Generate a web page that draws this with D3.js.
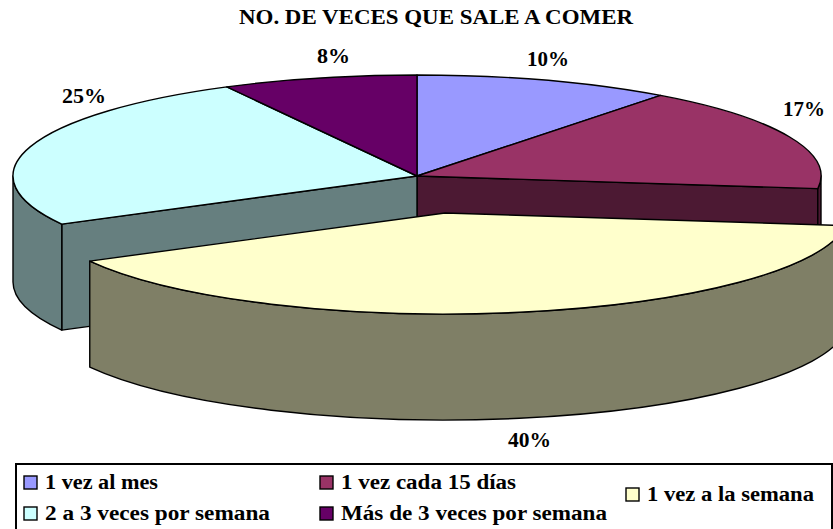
<!DOCTYPE html>
<html>
<head>
<meta charset="utf-8">
<script src="https://d3js.org/d3.v7.min.js"></script>
<style>
  html, body { margin: 0; padding: 0; background: #fff; }
  svg { display: block; }
  text { font-family: "Liberation Serif", serif; font-weight: bold; fill: #000; }
</style>
</head>
<body>
<script>
// datos
var categories = ["1 vez al mes", "1 vez cada 15 días", "1 vez a la semana", "2 a 3 veces por semana", "Más de 3 veces por semana"];
var percents = [10.3, 16.7, 40.1, 25.1, 7.8];
var topColors = ["#9999ff", "#993366", "#ffffcc", "#ccffff", "#660066"];
var sideColors = ["#4c4c7f", "#4c1933", "#7f7f66", "#667f7f", "#330033"];
var titleText = "NO. DE VECES QUE SALE A COMER";

// layout
var width = 833, height = 529;
var cx = 417, cy = 176, rx = 404, ry = 101, depth = 106;
var explodedIndex = 2, explodeX = 28, explodeY = 37;
var labelPos = [[527, 66], [783, 116], [508, 447], [62, 103], [317, 63]];
var labelWidths = [42, 42, 43, 44, 33];
var legendSwatch = [[24, 476], [320, 476], [626, 488], [24, 507], [320, 507]];
var legendWidths = [113, 175, 167, 225, 266];

var svg = d3.select("body").append("svg")
  .attr("width", width)
  .attr("height", height);

var color = d3.scaleOrdinal().domain(categories).range(topColors);
var side = d3.scaleOrdinal().domain(categories).range(sideColors);

var pie = d3.pie().sort(null).value(function(d, i) { return percents[i]; }).startAngle(0).endAngle(2 * Math.PI);
var slices = pie(categories);

// angulos desde las 12 en sentido horario
function px(a) { return rx * Math.sin(a); }
function py(a) { return -ry * Math.cos(a); }

function topPath(d) {
  var large = d.endAngle - d.startAngle > Math.PI ? 1 : 0;
  return "M0,0L" + px(d.startAngle) + "," + py(d.startAngle) +
    "A" + rx + "," + ry + " 0 " + large + " 1 " + px(d.endAngle) + "," + py(d.endAngle) + "Z";
}

function rimPath(d) {
  var a0 = Math.max(d.startAngle, Math.PI / 2), a1 = Math.min(d.endAngle, 3 * Math.PI / 2);
  if (a1 <= a0) return null;
  return "M" + px(a0) + "," + py(a0) +
    "A" + rx + "," + ry + " 0 0 1 " + px(a1) + "," + py(a1) +
    "L" + px(a1) + "," + (py(a1) + depth) +
    "A" + rx + "," + ry + " 0 0 0 " + px(a0) + "," + (py(a0) + depth) + "Z";
}

function facePath(a) {
  return "M0,0L" + px(a) + "," + py(a) + "L" + px(a) + "," + (py(a) + depth) + "L0," + depth + "Z";
}

function drawSlice(g, d, i) {
  var name = categories[i];
  var rim = rimPath(d);
  if (rim) g.append("path").attr("d", rim).attr("fill", side(name));
  g.append("path").attr("d", topPath(d)).attr("fill", color(name));
}

var pieG = svg.append("g")
  .attr("transform", "translate(" + cx + "," + cy + ")")
  .attr("stroke", "#000")
  .attr("stroke-width", 1.4)
  .attr("stroke-linejoin", "round");

// caras del hueco que deja la rebanada separada
var gone = slices[explodedIndex];
pieG.append("path").attr("d", facePath(gone.startAngle)).attr("fill", side(categories[explodedIndex - 1]));
pieG.append("path").attr("d", facePath(gone.endAngle)).attr("fill", side(categories[explodedIndex + 1]));

slices.forEach(function(d, i) {
  if (i !== explodedIndex) drawSlice(pieG, d, i);
});

var exG = pieG.append("g").attr("transform", "translate(" + explodeX + "," + explodeY + ")");
drawSlice(exG, gone, explodedIndex);

// titulo
svg.append("text")
  .attr("x", 239).attr("y", 24)
  .attr("font-size", 21)
  .attr("textLength", 394)
  .attr("lengthAdjust", "spacingAndGlyphs")
  .text(titleText);

// etiquetas
svg.selectAll(".pct").data(percents).enter().append("text")
  .attr("class", "pct")
  .attr("x", function(d, i) { return labelPos[i][0]; })
  .attr("y", function(d, i) { return labelPos[i][1]; })
  .attr("font-size", 20)
  .attr("textLength", function(d, i) { return labelWidths[i]; })
  .attr("lengthAdjust", "spacingAndGlyphs")
  .text(function(d) { return d3.format(".0f")(d) + "%"; });

// leyenda
svg.append("rect")
  .attr("x", 16).attr("y", 464)
  .attr("width", 816).attr("height", 80)
  .attr("fill", "#fff").attr("stroke", "#000").attr("stroke-width", 2);

var leg = svg.selectAll(".leg").data(categories).enter().append("g")
  .attr("class", "leg")
  .attr("transform", function(d, i) { return "translate(" + legendSwatch[i][0] + "," + legendSwatch[i][1] + ")"; });

leg.append("rect")
  .attr("width", 13).attr("height", 13)
  .attr("fill", function(d) { return color(d); })
  .attr("stroke", "#000").attr("stroke-width", 1.4);

leg.append("text")
  .attr("x", 21).attr("y", 13)
  .attr("font-size", 20)
  .attr("textLength", function(d, i) { return legendWidths[i]; })
  .attr("lengthAdjust", "spacingAndGlyphs")
  .text(function(d) { return d; });
</script>
</body>
</html>
